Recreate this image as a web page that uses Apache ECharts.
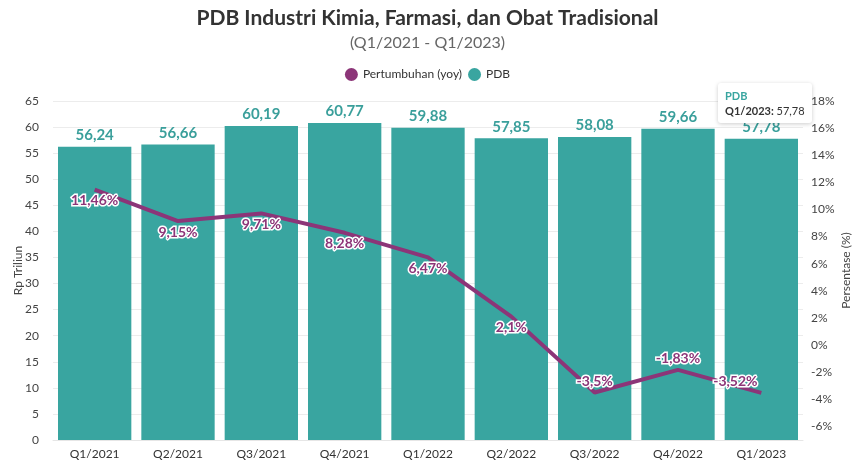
<!DOCTYPE html>
<html>
<head>
<meta charset="utf-8">
<script src="https://cdn.jsdelivr.net/npm/echarts@6/dist/echarts.min.js"></script>
<style>
  html, body { margin: 0; padding: 0; background: #fff; }
  #chart { width: 855px; height: 466px; }
</style>
</head>
<body>
<div id="chart"></div>
<script>
const quarters = ['Q1/2021', 'Q2/2021', 'Q3/2021', 'Q4/2021', 'Q1/2022', 'Q2/2022', 'Q3/2022', 'Q4/2022', 'Q1/2023'];
const pdb = [56.24, 56.66, 60.19, 60.77, 59.88, 57.85, 58.08, 59.66, 57.78];
const growth = [11.46, 9.15, 9.71, 8.28, 6.47, 2.1, -3.5, -1.83, -3.52];

const fmt = v => String(v).replace('.', ',');
const teal = '#39a5a0';
const purple = '#8c3578';
const font = 'Lato, "Noto Sans", sans-serif';

const chart = echarts.init(document.getElementById('chart'));

// labels below the point for the first six, above for the last three
const growthData = growth.map((v, i) => ({
  value: v,
  label: i < 6
    ? { position: 'bottom', distance: 4 }
    : { position: 'top', distance: 4, offset: i === 8 ? [-26, 0] : [0, 0] }
}));

chart.setOption({
  textStyle: { fontFamily: font },
  title: {
    text: 'PDB Industri Kimia, Farmasi, dan Obat Tradisional',
    subtext: '(Q1/2021 - Q1/2023)',
    left: 'center',
    top: 3,
    itemGap: 6,
    textStyle: { fontSize: 21, fontWeight: 'bold', color: '#333', fontFamily: font },
    subtextStyle: { fontSize: 16, color: '#666', fontFamily: font }
  },
  legend: {
    top: 63,
    left: 'center',
    itemWidth: 13,
    itemHeight: 13,
    itemGap: 6,
    icon: 'circle',
    textStyle: { fontSize: 12, color: '#333' },
    data: ['Pertumbuhan (yoy)', 'PDB']
  },
  tooltip: {
    trigger: 'item',
    backgroundColor: '#fff',
    borderWidth: 0,
    padding: [5, 7],
    extraCssText: 'box-shadow: 0 1px 4px rgba(0,0,0,0.2); border-radius: 3px;',
    position: [718, 83],
    formatter: p => '<div style="font-size:11px;line-height:15px;color:#333">' +
      '<b style="color:' + teal + '">' + p.seriesName + '</b><br>' +
      '<b>' + p.name + ':</b> ' + fmt(p.value) + '</div>'
  },
  grid: { left: 53, right: 52, top: 101, bottom: 26, outerBoundsMode: 'none' },
  xAxis: {
    type: 'category',
    data: quarters,
    axisTick: { show: false },
    axisLine: { lineStyle: { color: '#e6e6e6' } },
    axisLabel: { color: '#333', fontSize: 12, margin: 8 }
  },
  yAxis: [
    {
      type: 'value',
      min: 0,
      max: 65,
      interval: 5,
      name: 'Rp Triliun',
      nameLocation: 'middle',
      nameGap: 29,
      nameMoveOverlap: false,
      nameTextStyle: { color: '#444', fontSize: 12 },
      axisLabel: { color: '#444', fontSize: 12, margin: 14 },
      splitLine: { lineStyle: { color: '#ececec' } }
    },
    {
      type: 'value',
      min: -7,
      max: 18,
      interval: 1,
      name: 'Persentase (%)',
      nameLocation: 'middle',
      nameGap: 37,
      nameMoveOverlap: false,
      nameTextStyle: { color: '#444', fontSize: 12 },
      axisLabel: {
        color: '#444',
        fontSize: 12,
        margin: 8,
        formatter: v => (v % 2 === 0 ? v + '%' : '')
      },
      splitLine: { show: false }
    }
  ],
  series: [
    {
      name: 'Pertumbuhan (yoy)',
      type: 'line',
      yAxisIndex: 1,
      data: growthData,
      z: 5,
      symbol: 'circle',
      symbolSize: 0,
      showSymbol: true,
      itemStyle: { color: purple },
      lineStyle: { color: purple, width: 4 },
      label: {
        show: true,
        color: purple,
        fontSize: 14,
        fontWeight: 'bold',
        textBorderColor: '#fff',
        textBorderWidth: 3,
        formatter: p => fmt(p.value) + '%'
      },
      tooltip: { show: false }
    },
    {
      name: 'PDB',
      type: 'bar',
      data: pdb,
      barCategoryGap: '12%',
      itemStyle: { color: teal },
      label: {
        show: true,
        position: 'top',
        distance: 4,
        color: '#3a9f9b',
        fontSize: 15,
        fontWeight: 'bold',
        formatter: p => fmt(p.value)
      }
    }
  ]
});

setTimeout(() => {
  chart.dispatchAction({ type: 'showTip', seriesIndex: 1, dataIndex: 8 });
}, 50);
</script>
</body>
</html>
